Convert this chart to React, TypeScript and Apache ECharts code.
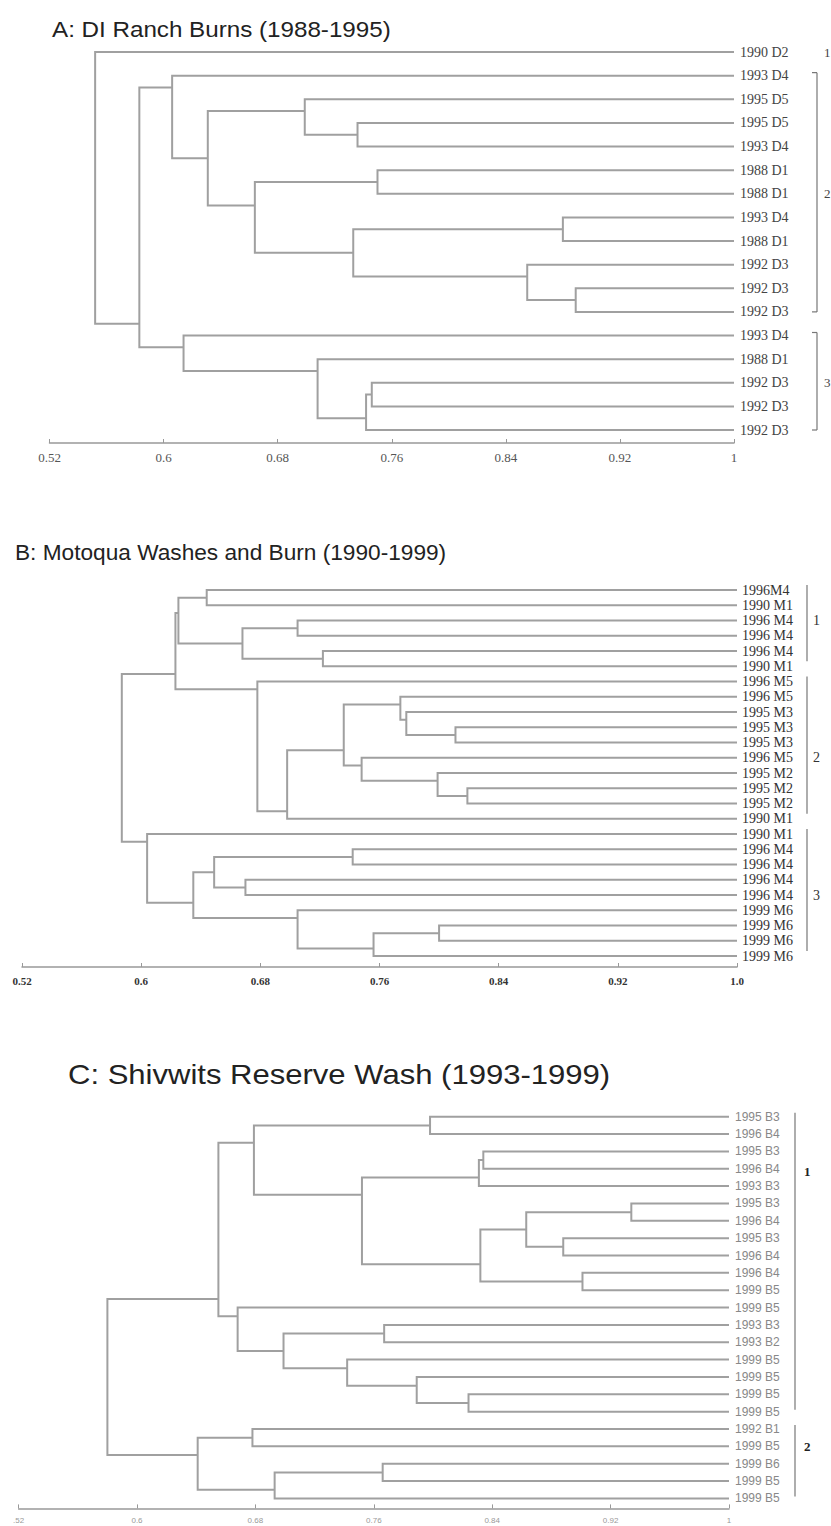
import { useEffect, useRef } from "react";
import * as echarts from "echarts";

const X0 = 0.52;
const X1 = 1.0;
const STEP = 0.08;

// ---------- Panel A ----------
const A_TITLE = "A: DI Ranch Burns (1988-1995)";
const A_LABELS = [
  "1990 D2", "1993 D4", "1995 D5", "1995 D5", "1993 D4", "1988 D1", "1988 D1", "1993 D4", "1988 D1",
  "1992 D3", "1992 D3", "1992 D3", "1993 D4", "1988 D1", "1992 D3", "1992 D3", "1992 D3",
];
// [childA, childB, similarity]; leaves 0..n-1, merged nodes numbered n, n+1, ...
const A_MERGES = [
  [3, 4, 0.736], [2, 17, 0.699], [5, 6, 0.75], [7, 8, 0.88], [10, 11, 0.889], [9, 21, 0.855],
  [20, 22, 0.733], [19, 23, 0.664], [18, 24, 0.631], [1, 25, 0.606], [14, 15, 0.746], [27, 16, 0.742],
  [13, 28, 0.708], [12, 29, 0.614], [26, 30, 0.583], [0, 31, 0.552],
];
const A_TICKS = ["0.52", "0.6", "0.68", "0.76", "0.84", "0.92", "1"];
const A_CLUSTER_NAMES = ["1", "2", "3"];
const A_CLUSTER_ROWS = [[0, 0, 0], [1, 11, 6], [12, 16, 14]];

// ---------- Panel B ----------
const B_TITLE = "B: Motoqua Washes and Burn (1990-1999)";
const B_LABELS = [
  "1996M4", "1990 M1", "1996 M4", "1996 M4", "1996 M4", "1990 M1", "1996 M5", "1996 M5", "1995 M3",
  "1995 M3", "1995 M3", "1996 M5", "1995 M2", "1995 M2", "1995 M2", "1990 M1", "1990 M1", "1996 M4",
  "1996 M4", "1996 M4", "1996 M4", "1999 M6", "1999 M6", "1999 M6", "1999 M6",
];
const B_MERGES = [
  [0, 1, 0.644], [2, 3, 0.705], [4, 5, 0.722], [26, 27, 0.668], [25, 28, 0.625], [9, 10, 0.811],
  [8, 30, 0.778], [7, 31, 0.774], [13, 14, 0.819], [12, 33, 0.799], [11, 34, 0.748], [32, 35, 0.736],
  [36, 15, 0.698], [6, 37, 0.678], [29, 38, 0.623], [17, 18, 0.742], [19, 20, 0.67], [40, 41, 0.649],
  [22, 23, 0.8], [43, 24, 0.756], [21, 44, 0.705], [42, 45, 0.635], [16, 46, 0.604], [39, 47, 0.587],
];
const B_TICKS = ["0.52", "0.6", "0.68", "0.76", "0.84", "0.92", "1.0"];
const B_CLUSTER_NAMES = ["1", "2", "3"];
const B_CLUSTER_ROWS = [[0, 5, 2], [6, 15, 11], [16, 24, 20]];

// ---------- Panel C ----------
const C_TITLE = "C: Shivwits Reserve Wash (1993-1999)";
const C_LABELS = [
  "1995 B3", "1996 B4", "1995 B3", "1996 B4", "1993 B3", "1995 B3", "1996 B4", "1995 B3", "1996 B4",
  "1996 B4", "1999 B5", "1999 B5", "1993 B3", "1993 B2", "1999 B5", "1999 B5", "1999 B5", "1999 B5",
  "1992 B1", "1999 B5", "1999 B6", "1999 B5", "1999 B5",
];
const C_MERGES = [
  [0, 1, 0.798], [2, 3, 0.834], [24, 4, 0.831], [5, 6, 0.934], [7, 8, 0.888], [26, 27, 0.863],
  [9, 10, 0.901], [28, 29, 0.832], [25, 30, 0.752], [23, 31, 0.679], [12, 13, 0.767], [16, 17, 0.824],
  [15, 34, 0.789], [14, 35, 0.742], [33, 36, 0.699], [11, 37, 0.668], [32, 38, 0.655], [18, 19, 0.678],
  [20, 21, 0.766], [41, 22, 0.693], [40, 42, 0.641], [39, 43, 0.58],
];
const C_TICKS = [".52", "0.6", "0.68", "0.76", "0.84", "0.92", "1"];
const C_CLUSTER_NAMES = ["1", "2"];
const C_CLUSTER_ROWS = [[0, 17, 3.13], [18, 22, 19]];

// Build the link segments: each merge -> [sim, yA, yB, xA, xB] (x shifted by X0)
function buildLinks(n: number, merges: number[][]) {
  const ys: number[] = [];
  const xs: number[] = [];
  const lo: number[] = [];
  const hi: number[] = [];
  for (let i = 0; i < n; i++) {
    ys.push(i);
    xs.push(X1);
    lo.push(i);
    hi.push(i);
  }
  const out: number[][] = [];
  merges.forEach(([a, b, s]) => {
    out.push([s - X0, ys[a], ys[b], xs[a] - X0, xs[b] - X0]);
    const top = lo[a] < lo[b] ? a : b;
    ys.push(hi[top] + 0.5);
    xs.push(s);
    lo.push(Math.min(lo[a], lo[b]));
    hi.push(Math.max(hi[a], hi[b]));
  });
  return out;
}

type PanelCfg = {
  labels: string[];
  merges: number[][];
  ticks: string[];
  clusterNames: string[];
  clusterRows: number[][];
  grid: { left: number; top: number; width: number; height: number };
  axisOffset: number;
  lineColor: string;
  lineWidth: number;
  leafFont: { fontFamily: string; fontSize: number; color: string };
  leafMargin: number;
  tickFont: { fontFamily: string; fontSize: number; color: string; fontWeight?: string };
  bracket: { dx: number; ext0: number; ext1: number; ticks: boolean; labelDx: number; font: string; color: string };
};

const PANELS: PanelCfg[] = [
  {
    labels: A_LABELS,
    merges: A_MERGES,
    ticks: A_TICKS,
    clusterNames: A_CLUSTER_NAMES,
    clusterRows: A_CLUSTER_ROWS,
    grid: { left: 49.5, top: 52, width: 684.5, height: 378 },
    axisOffset: 13,
    lineColor: "#a0a0a0",
    lineWidth: 2,
    leafFont: { fontFamily: "Liberation Serif", fontSize: 14, color: "#444" },
    leafMargin: 6,
    tickFont: { fontFamily: "Liberation Serif", fontSize: 13, color: "#555" },
    bracket: { dx: 83, ext0: -3, ext1: 0, ticks: true, labelDx: 7, font: "13px 'Liberation Serif'", color: "#444" },
  },
  {
    labels: B_LABELS,
    merges: B_MERGES,
    ticks: B_TICKS,
    clusterNames: B_CLUSTER_NAMES,
    clusterRows: B_CLUSTER_ROWS,
    grid: { left: 22, top: 590, width: 715, height: 366 },
    axisOffset: 11,
    lineColor: "#a0a0a0",
    lineWidth: 2,
    leafFont: { fontFamily: "Liberation Serif", fontSize: 14, color: "#333" },
    leafMargin: 5,
    tickFont: { fontFamily: "Liberation Serif", fontSize: 11, color: "#333", fontWeight: "bold" },
    bracket: { dx: 70, ext0: -5, ext1: -5, ticks: false, labelDx: 6, font: "14px 'Liberation Serif'", color: "#333" },
  },
  {
    labels: C_LABELS,
    merges: C_MERGES,
    ticks: C_TICKS,
    clusterNames: C_CLUSTER_NAMES,
    clusterRows: C_CLUSTER_ROWS,
    grid: { left: 18.6, top: 1116.7, width: 710.4, height: 381.7 },
    axisOffset: 10,
    lineColor: "#a0a0a0",
    lineWidth: 2,
    leafFont: { fontFamily: "Liberation Sans", fontSize: 12, color: "#888" },
    leafMargin: 6,
    tickFont: { fontFamily: "Liberation Sans", fontSize: 8, color: "#999" },
    bracket: { dx: 66, ext0: -4, ext1: -2, ticks: false, labelDx: 9, font: "bold 13px 'Liberation Serif'", color: "#222" },
  },
];

function buildOption() {
  const grid: any[] = [];
  const xAxis: any[] = [];
  const yAxis: any[] = [];
  const series: any[] = [];

  PANELS.forEach((p, i) => {
    grid.push({ ...p.grid });
    xAxis.push({
      type: "value",
      gridIndex: i,
      min: 0,
      max: X1 - X0,
      interval: STEP,
      position: "bottom",
      offset: p.axisOffset,
      axisLine: { show: true, onZero: false, lineStyle: { color: "#999", width: 1.5 } },
      axisTick: { show: true, inside: true, length: 4, lineStyle: { color: "#999" } },
      splitLine: { show: false },
      axisLabel: {
        margin: 8,
        fontFamily: p.tickFont.fontFamily,
        fontSize: p.tickFont.fontSize,
        color: p.tickFont.color,
        fontWeight: p.tickFont.fontWeight || "normal",
        formatter: (v: number) => p.ticks[Math.round(v / STEP)] ?? "",
      },
    });
    yAxis.push({
      type: "value",
      gridIndex: i,
      min: 0,
      max: p.labels.length - 1,
      interval: 1,
      inverse: true,
      position: "right",
      axisLine: { show: false, onZero: false },
      axisTick: { show: false },
      splitLine: { show: false },
      axisLabel: {
        margin: p.leafMargin,
        fontFamily: p.leafFont.fontFamily,
        fontSize: p.leafFont.fontSize,
        color: p.leafFont.color,
        formatter: (v: number) => p.labels[Math.round(v)] ?? "",
      },
    });

    const links = buildLinks(p.labels.length, p.merges);
    series.push({
      type: "custom",
      xAxisIndex: i,
      yAxisIndex: i,
      clip: false,
      silent: true,
      data: links,
      renderItem: (_params: any, api: any) => {
        const s = api.value(0);
        const ya = api.value(1);
        const yb = api.value(2);
        const xa = api.value(3);
        const xb = api.value(4);
        const pts = [api.coord([xa, ya]), api.coord([s, ya]), api.coord([s, yb]), api.coord([xb, yb])];
        return {
          type: "polyline",
          shape: { points: pts },
          style: { stroke: p.lineColor, lineWidth: p.lineWidth, fill: "none" },
        };
      },
    });

    const b = p.bracket;
    series.push({
      type: "custom",
      xAxisIndex: i,
      yAxisIndex: i,
      clip: false,
      silent: true,
      data: p.clusterRows.map((r, k) => [r[0], r[1], r[2], k]),
      renderItem: (_params: any, api: any) => {
        const from = api.value(0);
        const to = api.value(1);
        const lab = api.value(2);
        const k = api.value(3);
        const pt = api.coord([X1 - X0, from]);
        const pb = api.coord([X1 - X0, to]);
        const pl = api.coord([X1 - X0, lab]);
        const bx = pt[0] + b.dx;
        const children: any[] = [];
        if (to > from) {
          const y0 = pt[1] + b.ext0;
          const y1 = pb[1] + b.ext1;
          children.push({
            type: "line",
            shape: { x1: bx, y1: y0, x2: bx, y2: y1 },
            style: { stroke: "#777", lineWidth: 1.2 },
          });
          if (b.ticks) {
            children.push({ type: "line", shape: { x1: bx - 5, y1: y0, x2: bx, y2: y0 }, style: { stroke: "#777", lineWidth: 1.2 } });
            children.push({ type: "line", shape: { x1: bx - 5, y1: y1, x2: bx, y2: y1 }, style: { stroke: "#777", lineWidth: 1.2 } });
          }
        }
        children.push({
          type: "text",
          style: {
            text: p.clusterNames[k],
            x: bx + b.labelDx,
            y: pl[1],
            font: b.font,
            fill: b.color,
            align: "left",
            verticalAlign: "middle",
          },
        });
        return { type: "group", children };
      },
    });
  });

  const titles = [
    { text: A_TITLE, x: 52, y: 29, size: 22, sx: 1.1 },
    { text: B_TITLE, x: 15, y: 553, size: 22, sx: 1.03 },
    { text: C_TITLE, x: 68, y: 1075, size: 27, sx: 1.15 },
  ];

  return {
    animation: false,
    backgroundColor: "#ffffff",
    grid,
    xAxis,
    yAxis,
    series,
    graphic: titles.map((t) => ({
      type: "text",
      x: t.x,
      y: t.y,
      scaleX: t.sx,
      silent: true,
      style: {
        text: t.text,
        font: `${t.size}px 'Liberation Sans'`,
        fill: "#222",
        align: "left",
        verticalAlign: "middle",
      },
    })),
  };
}

export default function App() {
  const ref = useRef<HTMLDivElement>(null);
  useEffect(() => {
    if (!ref.current) return;
    const chart = echarts.init(ref.current, undefined, { renderer: "svg" });
    chart.setOption(buildOption() as any);
    return () => chart.dispose();
  }, []);
  return (
    <div
      ref={ref}
      style={{ position: "absolute", left: 0, top: 0, width: 831, height: 1526, background: "#fff" }}
    />
  );
}
